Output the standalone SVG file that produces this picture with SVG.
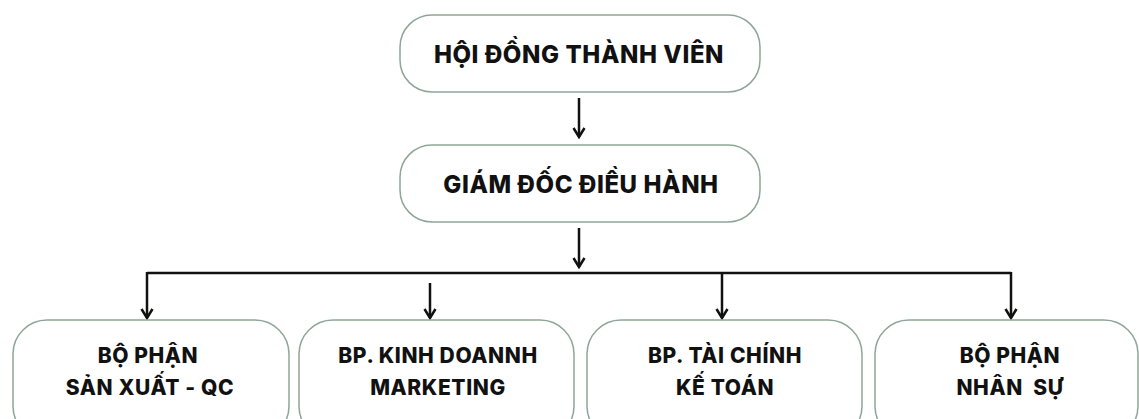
<svg xmlns="http://www.w3.org/2000/svg" width="1139" height="419" viewBox="0 0 1139 419">
<style>
.box{fill:#ffffff;stroke:#8ea697;stroke-width:1.5}
.t{font-family:Inter,"Liberation Sans",sans-serif;font-weight:800;fill:#111111;text-anchor:middle;letter-spacing:0.6px}
.big{font-size:24px}
.sm{font-size:21px}
.c{fill:none;stroke:#111111;stroke-width:2.5}
</style>
<defs>
<marker id="ah" viewBox="0 0 12 14" refX="10" refY="7" markerWidth="12" markerHeight="14" markerUnits="userSpaceOnUse" orient="auto">
<path d="M1,1.5 L10,7 L1,12.5" fill="none" stroke="#111111" stroke-width="2.5" stroke-linejoin="miter"/>
</marker>
</defs>
<rect width="1139" height="419" fill="#ffffff"/>
<g id="connectors">
<line class="c" x1="579" y1="98" x2="579" y2="137" marker-end="url(#ah)"/>
<line class="c" x1="579" y1="228" x2="579" y2="267" marker-end="url(#ah)"/>
<polyline class="c" points="147,273 1011,273"/>
<line class="c" x1="147" y1="272" x2="147" y2="318" marker-end="url(#ah)"/>
<line class="c" x1="430" y1="283" x2="430" y2="318" marker-end="url(#ah)"/>
<line class="c" x1="722" y1="272" x2="722" y2="318" marker-end="url(#ah)"/>
<line class="c" x1="1011" y1="272" x2="1011" y2="318" marker-end="url(#ah)"/>
</g>
<g id="n-hdtv">
<rect class="box" x="400" y="15" width="360" height="77" rx="32"/>
<text class="t big" x="579" y="63">HỘI ĐỒNG THÀNH VIÊN</text>
</g>
<g id="n-gd">
<rect class="box" x="400" y="145" width="360" height="77" rx="32"/>
<text class="t big" x="581" y="193">GIÁM ĐỐC ĐIỀU HÀNH</text>
</g>
<g id="n-sx">
<rect class="box" x="13" y="320" width="276" height="120" rx="34"/>
<text class="t sm" x="148" y="363">BỘ PHẬN</text>
<text class="t sm" x="150" y="395">SẢN XUẤT - QC</text>
</g>
<g id="n-kd">
<rect class="box" x="299" y="320" width="275" height="120" rx="34"/>
<text class="t sm" x="438" y="363">BP. KINH DOANNH</text>
<text class="t sm" x="438" y="395">MARKETING</text>
</g>
<g id="n-tc">
<rect class="box" x="587" y="320" width="275" height="120" rx="34"/>
<text class="t sm" x="725" y="363">BP. TÀI CHÍNH</text>
<text class="t sm" x="725" y="395">KẾ TOÁN</text>
</g>
<g id="n-ns">
<rect class="box" x="875" y="320" width="263" height="120" rx="34"/>
<text class="t sm" x="1010" y="363">BỘ PHẬN</text>
<text class="t sm" x="1010" y="395" xml:space="preserve">NHÂN  SỰ</text>
</g>
</svg>
